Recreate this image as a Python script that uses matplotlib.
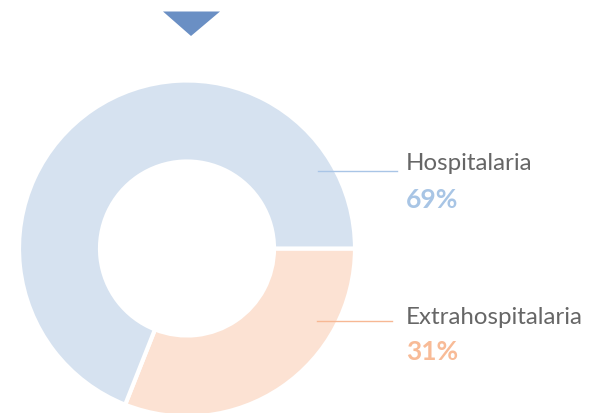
import matplotlib
matplotlib.use("Agg")
import matplotlib.pyplot as plt
from matplotlib.patches import Polygon

labels = ["Extrahospitalaria", "Hospitalaria"]
values = [31, 69]
pct_labels = ["31%", "69%"]
colors = ["#fce2d3", "#d6e2f0"]
line_colors = ["#f7b894", "#a9c5e6"]
pct_colors = ["#f8bb97", "#a8c5e5"]

W, H = 589, 414
fig = plt.figure(figsize=(W / 100, H / 100), dpi=100)
ax = fig.add_axes([0, 0, 1, 1])

cx, cy, R = 187, 414 - 249.5, 168
ax.pie(values, colors=colors, startangle=0, counterclock=False,
       center=(cx, cy), radius=R,
       wedgeprops=dict(width=R - 87, edgecolor="white", linewidth=3))

ax.set_xlim(0, W)
ax.set_ylim(0, H)
ax.set_aspect("equal")
ax.axis("off")

# triangle marker at top
ax.add_patch(Polygon([(163, 414 - 12.5), (220, 414 - 12.5), (191, 414 - 37)],
                     closed=True, facecolor="#6a8fc4", edgecolor="none"))

# annotations: (label y, pct y, line y, line x0, line x1)
ann = {
    "Hospitalaria": (414 - 163, 414 - 200, 414 - 172, 318, 397),
    "Extrahospitalaria": (414 - 318, 414 - 352, 414 - 322, 317, 392),
}
for i, lab in enumerate(labels):
    ly, py, liy, x0, x1 = ann[lab]
    ax.plot([x0, x1], [liy, liy], color=line_colors[i], lw=1.0)
    ax.text(406, ly, lab, fontsize=17.3, family="Lato", color="#666666",
            va="center", ha="left")
    ax.text(406, py, pct_labels[i], fontsize=19, family="Lato",
            fontweight="bold", color=pct_colors[i], va="center", ha="left")

fig.savefig("out.png", dpi=100)
